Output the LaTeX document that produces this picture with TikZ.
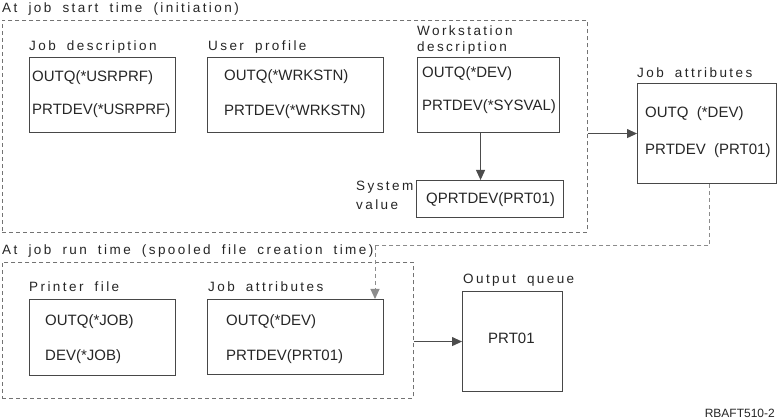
\documentclass[tikz,border=0pt]{standalone}
\usepackage{fontspec}
\setmainfont{Liberation Sans}
\usetikzlibrary{arrows.meta,calc}
\newfontfamily\spaced[LetterSpace=18,WordSpace=1.8]{Liberation Sans}
\begin{document}
\begin{tikzpicture}[x=1pt,y=-1pt,
  box/.style={draw=black!72, line width=1.1pt, anchor=north west, inner sep=0pt},
  region/.style={draw=black!55, dashed, dash pattern=on 4pt off 3pt, line width=0.9pt, anchor=north west, inner sep=0pt},
  title/.style={anchor=west, inner sep=0pt, font=\fontsize{13.5}{16}\selectfont\spaced, text=black!85},
  val/.style={anchor=west, inner sep=0pt, font=\fontsize{15}{18}\selectfont, text=black!85},
  arr/.style={draw=black!70, line width=1pt, -{Triangle[length=10pt,width=9pt]}},
  darr/.style={draw=black!45, line width=1pt, dash pattern=on 4pt off 3pt}
]
\useasboundingbox (0,0) rectangle (777,419);
\fill[white] (0,0) rectangle (777,419);

% regions
\node[region, minimum width=585pt, minimum height=212pt] (start) at (2,20) {};
\node[region, minimum width=411pt, minimum height=136pt] (run) at (2,262) {};
\node[title] (starttitle) at (2,9) {At job start time (initiation)};
\node[title] (runtitle) at (2,251) {At job run time (spooled file creation time)};

% job description
\node[title] (jdt) at (29,47) {Job description};
\node[box, minimum width=146pt, minimum height=75pt] (jd) at (29,57) {};
\node[val] (jd1) at (32,78) {OUTQ(*USRPRF)};
\node[val] (jd2) at (32,111) {PRTDEV(*USRPRF)};

% user profile
\node[title] (upt) at (208,47) {User profile};
\node[box, minimum width=176pt, minimum height=75pt] (up) at (207,57) {};
\node[val] (up1) at (224,77) {OUTQ(*WRKSTN)};
\node[val] (up2) at (224,112) {PRTDEV(*WRKSTN)};

% workstation description
\node[title] (wst1) at (417,31) {Workstation};
\node[title] (wst2) at (417,48) {description};
\node[box, minimum width=142pt, minimum height=75pt] (ws) at (417,57) {};
\node[val] (ws1) at (422,74) {OUTQ(*DEV)};
\node[val] (ws2) at (422,107) {PRTDEV(*SYSVAL)};

% system value
\node[title] (svt1) at (356,187) {System};
\node[title] (svt2) at (356,205) {value};
\node[box, minimum width=147pt, minimum height=37pt] (sv) at (416,180) {};
\node[val] (sv1) at (426,200) {QPRTDEV(PRT01)};

% job attributes (top right)
\node[title] (jat) at (637,73) {Job attributes};
\node[box, minimum width=139pt, minimum height=100pt] (ja) at (637,83) {};
\node[val] (ja1) at (645,114) {OUTQ\ \ (*DEV)};
\node[val] (ja2) at (645,151) {PRTDEV\ \ (PRT01)};

% printer file
\node[title] (pft) at (29,287) {Printer file};
\node[box, minimum width=146pt, minimum height=76pt] (pf) at (29,299) {};
\node[val] (pf1) at (45,322) {OUTQ(*JOB)};
\node[val] (pf2) at (45,357) {DEV(*JOB)};

% job attributes (bottom)
\node[title] (jbt) at (208,287) {Job attributes};
\node[box, minimum width=176pt, minimum height=75pt] (jb) at (207,299) {};
\node[val] (jb1) at (226,322) {OUTQ(*DEV)};
\node[val] (jb2) at (226,357) {PRTDEV(PRT01)};

% output queue
\node[title] (oqt) at (463,280) {Output queue};
\node[box, minimum width=100pt, minimum height=100pt] (oq) at (462,291) {};
\node[val] (oq1) at (488,338) {PRT01};

% figure id
\node[anchor=east, inner sep=0pt, font=\fontsize{12}{14}\selectfont, text=black!85] (fid) at (775,413) {RBAFT510-2};

% connectors
\draw[arr] ([xshift=-8pt]ws.south) -- ([xshift=-8pt]ws.south |- sv.north);
\draw[arr] (start.east |- ja.west) -- (ja.west);
\coordinate (bend) at (375,246);
\draw[darr] ([xshift=2.5pt]ja.south) |- (bend);
\draw[darr, -{Triangle[length=10pt,width=9pt]}] (bend) -- (bend |- jb.north);
\draw[arr] (run.east |- oq.west) -- (oq.west);
\end{tikzpicture}
\end{document}
